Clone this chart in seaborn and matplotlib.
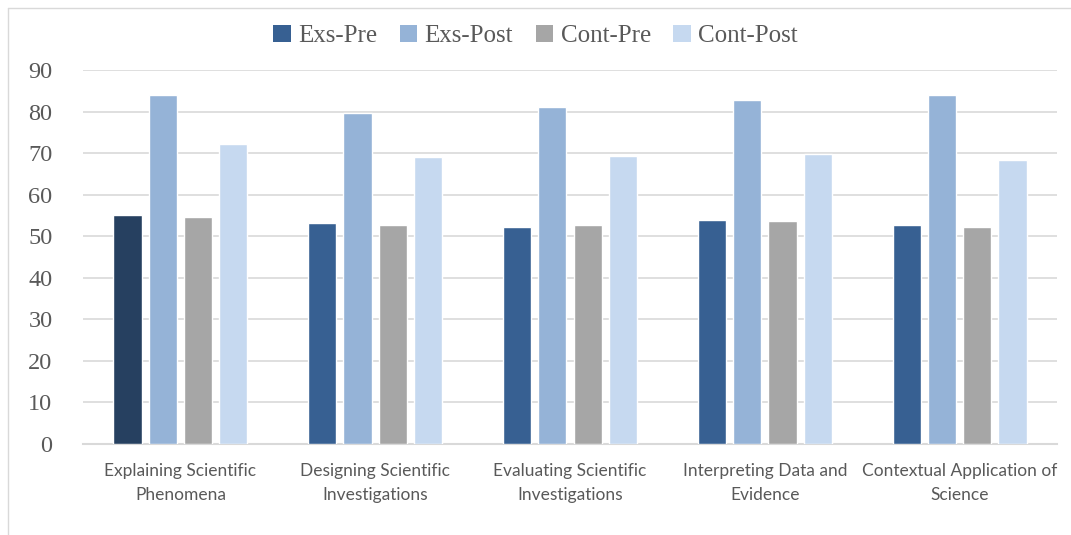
import matplotlib.pyplot as plt
import seaborn as sns
import pandas as pd
from matplotlib.lines import Line2D
from matplotlib.patches import Patch

categories = [
    'Explaining Scientific\nPhenomena',
    'Designing Scientific\nInvestigations',
    'Evaluating Scientific\nInvestigations',
    'Interpreting Data and\nEvidence',
    'Contextual Application of\nScience',
]
groups = ['Exs-Pre', 'Exs-Post', 'Cont-Pre', 'Cont-Post']
exs_pre = [55.1, 53.2, 52.3, 53.9, 52.8]
exs_post = [84.0, 79.7, 81.0, 82.7, 83.9]
cont_pre = [54.7, 52.7, 52.8, 53.6, 52.2]
cont_post = [72.1, 69.0, 69.3, 69.9, 68.3]
y_ticks = list(range(0, 100, 10))

colors = ['#376092', '#95B3D7', '#A6A6A6', '#C6D9F0']
highlight = '#264060'

rows = []
for name, vals in zip(groups, [exs_pre, exs_post, cont_pre, cont_post]):
    for cat, v in zip(categories, vals):
        rows.append({'category': cat, 'group': name, 'score': v})
df = pd.DataFrame(rows)

sns.set_style('white')
fig = plt.figure(figsize=(10.71, 5.35), dpi=100)
ax = fig.add_axes([83 / 1071, 91 / 535, 974 / 1071, 374 / 535])

sns.barplot(data=df, x='category', y='score', hue='group', hue_order=groups,
            palette=colors, width=0.725, gap=0.2, saturation=1, errorbar=None,
            legend=False, ax=ax, zorder=3)

# first bar of the chart is drawn darker in the original
ax.patches[0].set_facecolor(highlight)

ax.set_ylim(0, 90)
ax.set_xlim(-0.5, 4.5)
ax.set_yticks(y_ticks)
ax.yaxis.grid(True, color='#D9D9D9', linewidth=1.2, zorder=0)
ax.set_axisbelow(True)
for side in ['left', 'right', 'top']:
    ax.spines[side].set_visible(False)
ax.spines['bottom'].set_color('#D9D9D9')
ax.spines['bottom'].set_linewidth(1.5)
ax.tick_params(axis='both', length=0)
ax.tick_params(axis='y', pad=22)
ax.tick_params(axis='x', pad=14)
ax.set_xlabel('')
ax.set_ylabel('')

for lab in ax.get_yticklabels():
    lab.set_fontfamily('Liberation Serif')
    lab.set_fontsize(17.5)
    lab.set_color('#595959')
for lab in ax.get_xticklabels():
    lab.set_fontfamily('Lato')
    lab.set_fontsize(12.5)
    lab.set_color('#595959')
    lab.set_linespacing(1.55)

handles = [Patch(facecolor=c, edgecolor='none') for c in colors]
fig.legend(handles, groups, loc='center', bbox_to_anchor=(0.5, 1 - 36 / 535),
           ncol=4, frameon=False, handlelength=0.7, handleheight=0.7,
           handletextpad=0.3, columnspacing=0.9,
           prop={'family': 'Liberation Serif', 'size': 18}, labelcolor='#595959')

# chart frame (left and top edges visible in the original crop)
fig.add_artist(Line2D([7.5 / 1071, 7.5 / 1071], [0, 1 - 8 / 535],
                      color='#D9D9D9', linewidth=1, transform=fig.transFigure))
fig.add_artist(Line2D([7.5 / 1071, 1], [1 - 8 / 535, 1 - 8 / 535],
                      color='#D9D9D9', linewidth=1, transform=fig.transFigure))

fig.savefig('out.png', dpi=100)
